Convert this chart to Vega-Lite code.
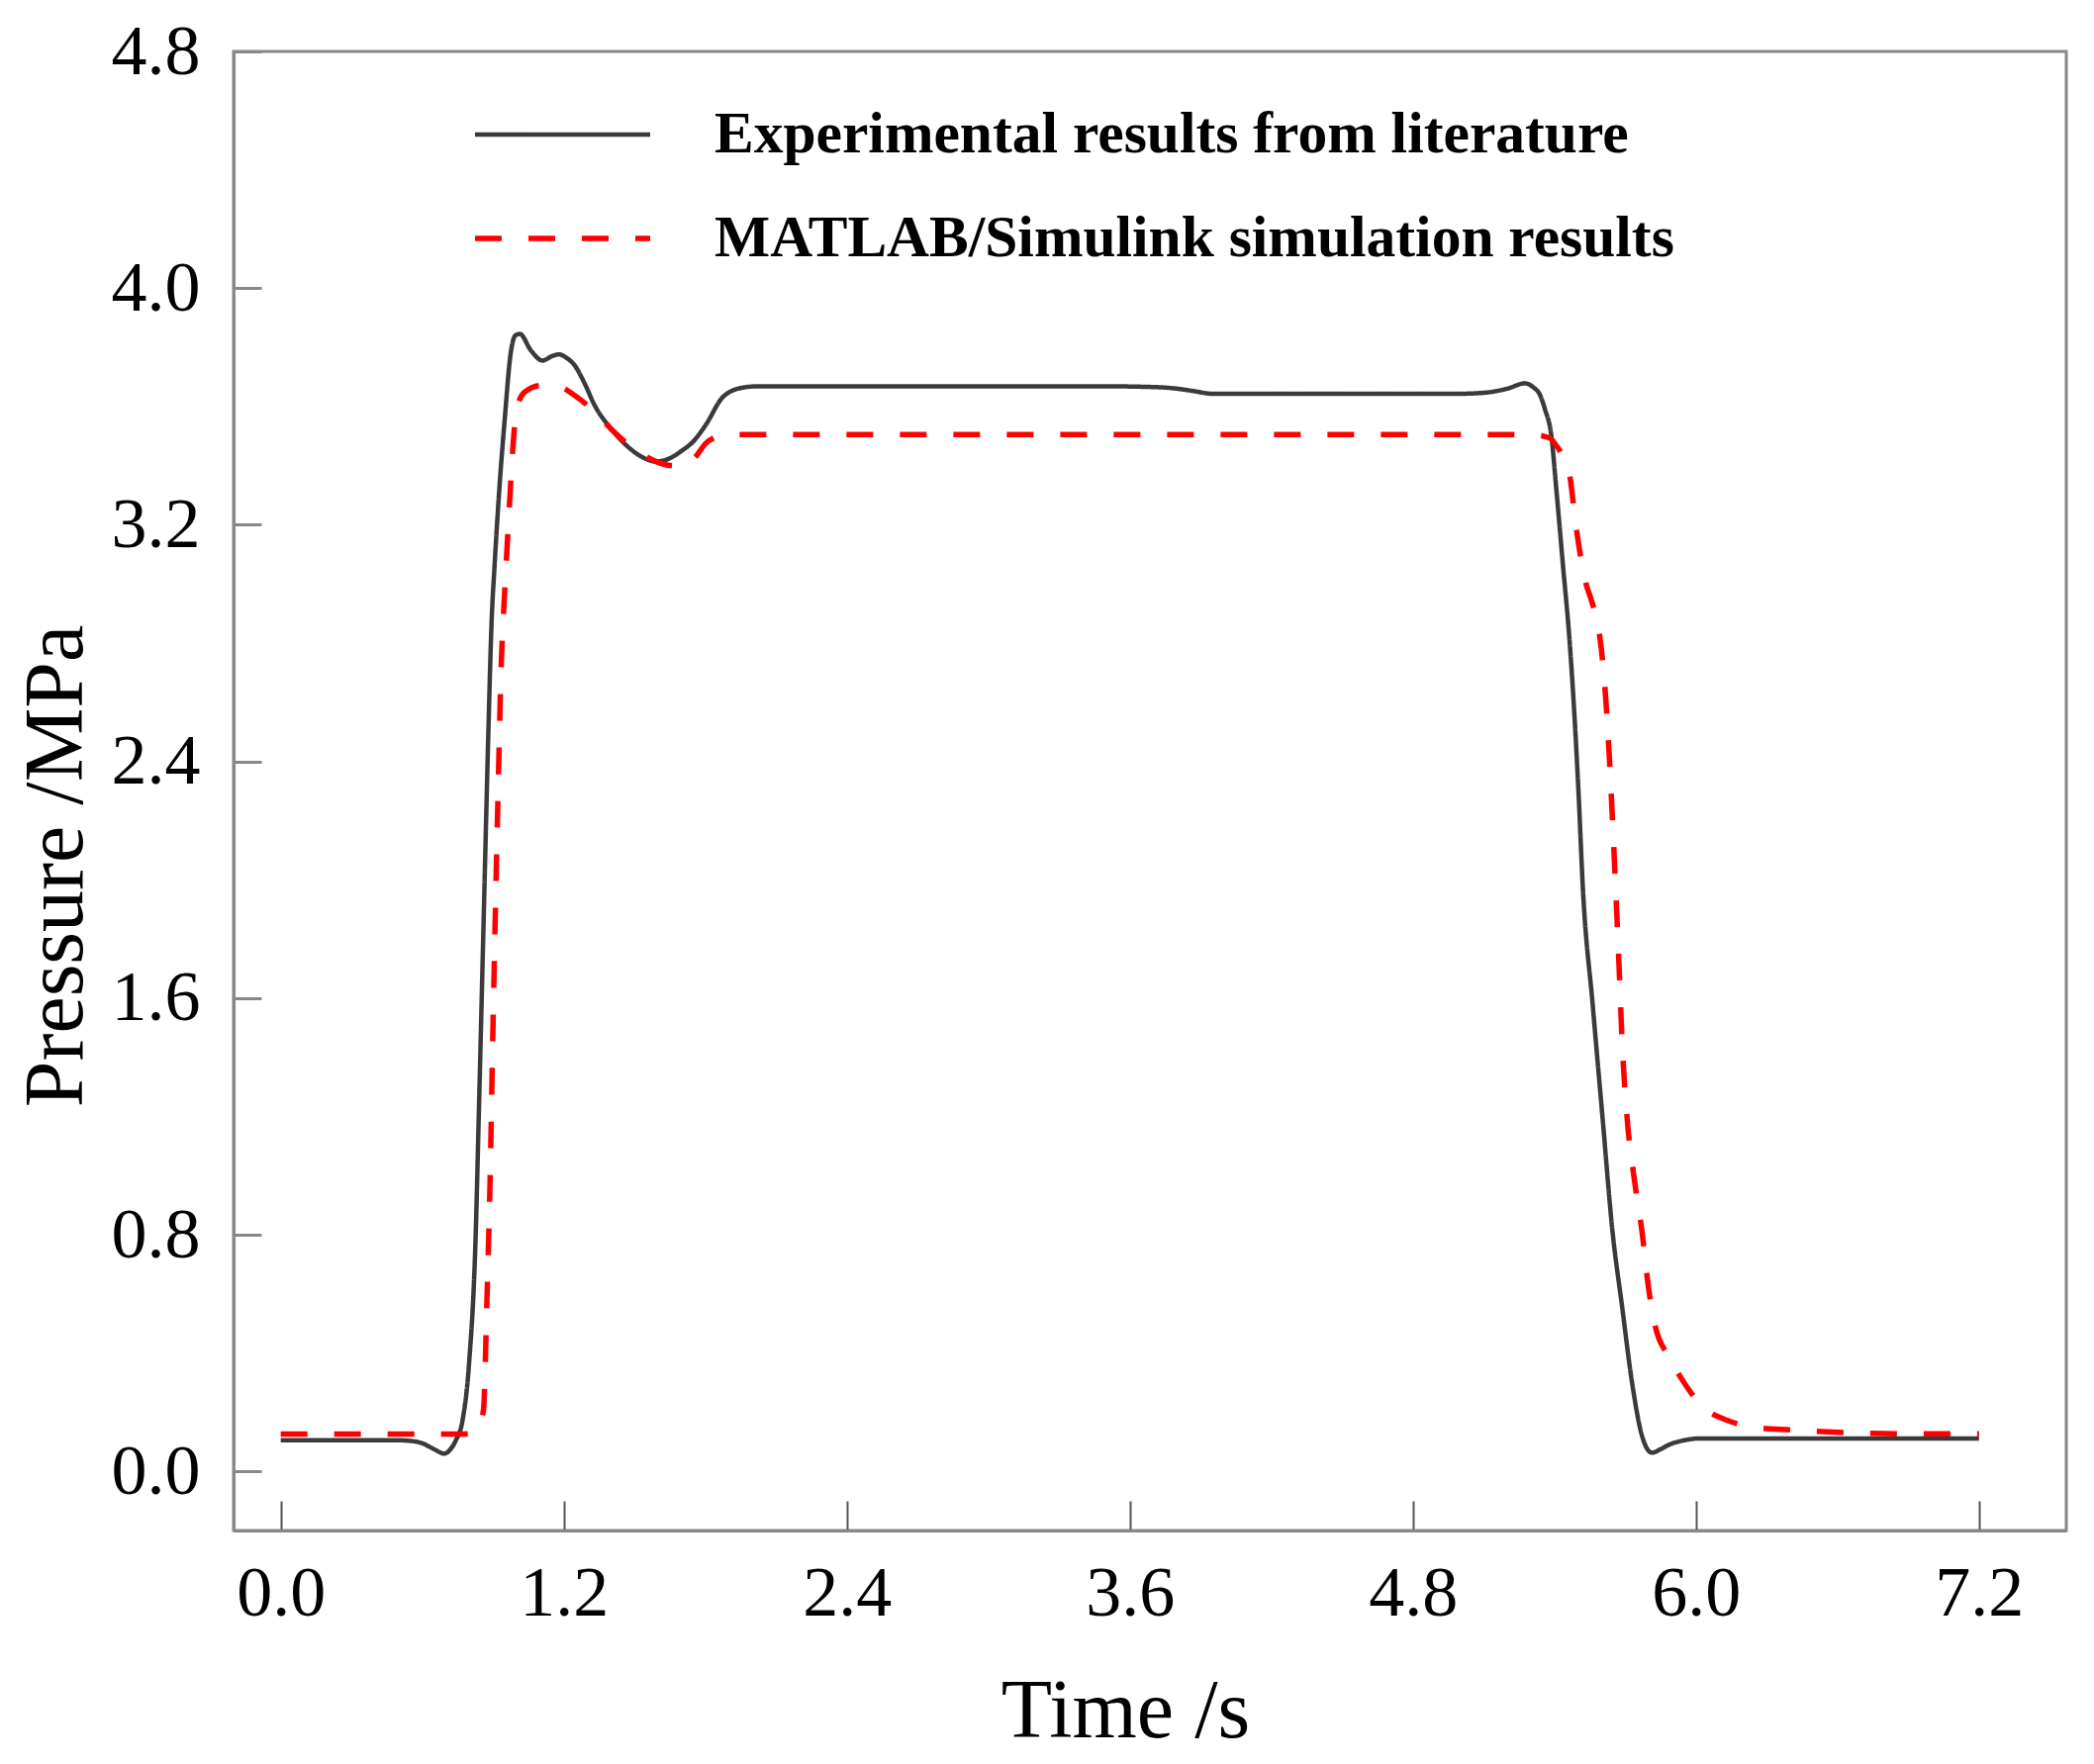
{
  "$schema": "https://vega.github.io/schema/vega-lite/v6.json",
  "autosize": {"type": "none"},
  "padding": {"left": 236, "top": 52, "right": 28, "bottom": 236},
  "width": 1852,
  "height": 1495,
  "background": "white",
  "config": {
    "view": {"stroke": "#888888", "strokeWidth": 3},
    "axis": {
      "grid": false,
      "labelFont": "Liberation Serif",
      "labelFontSize": 72,
      "labelColor": "black",
      "titleFont": "Liberation Serif",
      "titleFontSize": 84,
      "titleFontWeight": "normal",
      "titleColor": "black",
      "domainColor": "#888888",
      "domainWidth": 3,
      "labelOverlap": false
    },
    "legend": {
      "title": null,
      "orient": "none",
      "legendX": 241,
      "legendY": 54,
      "direction": "vertical",
      "padding": 0,
      "symbolType": "stroke",
      "symbolSize": 31329,
      "symbolStrokeWidth": 5,
      "clipHeight": 60,
      "rowPadding": 45,
      "labelOffset": 62,
      "labelFont": "Liberation Serif",
      "labelFontSize": 59.5,
      "labelFontWeight": "bold",
      "labelColor": "black",
      "labelLimit": 0
    }
  },
  "data": {
    "values": [
      {"series": "exp", "t": 0.0, "p": 0.105},
      {"series": "exp", "t": 0.3, "p": 0.105},
      {"series": "exp", "t": 0.5, "p": 0.105},
      {"series": "exp", "t": 0.55, "p": 0.103},
      {"series": "exp", "t": 0.6, "p": 0.095},
      {"series": "exp", "t": 0.65, "p": 0.075},
      {"series": "exp", "t": 0.693, "p": 0.06},
      {"series": "exp", "t": 0.72, "p": 0.075},
      {"series": "exp", "t": 0.742, "p": 0.104},
      {"series": "exp", "t": 0.77, "p": 0.169},
      {"series": "exp", "t": 0.798, "p": 0.36},
      {"series": "exp", "t": 0.826, "p": 0.786},
      {"series": "exp", "t": 0.84, "p": 1.213},
      {"series": "exp", "t": 0.86, "p": 1.853},
      {"series": "exp", "t": 0.88, "p": 2.49},
      {"series": "exp", "t": 0.893, "p": 2.85},
      {"series": "exp", "t": 0.908, "p": 3.08},
      {"series": "exp", "t": 0.925, "p": 3.3},
      {"series": "exp", "t": 0.95, "p": 3.56},
      {"series": "exp", "t": 0.975, "p": 3.78},
      {"series": "exp", "t": 0.995, "p": 3.84},
      {"series": "exp", "t": 1.014, "p": 3.845},
      {"series": "exp", "t": 1.06, "p": 3.79},
      {"series": "exp", "t": 1.11, "p": 3.755},
      {"series": "exp", "t": 1.15, "p": 3.77},
      {"series": "exp", "t": 1.18, "p": 3.776},
      {"series": "exp", "t": 1.21, "p": 3.765},
      {"series": "exp", "t": 1.245, "p": 3.74},
      {"series": "exp", "t": 1.29, "p": 3.675},
      {"series": "exp", "t": 1.33, "p": 3.605},
      {"series": "exp", "t": 1.4, "p": 3.525},
      {"series": "exp", "t": 1.47, "p": 3.465},
      {"series": "exp", "t": 1.53, "p": 3.43},
      {"series": "exp", "t": 1.59, "p": 3.414},
      {"series": "exp", "t": 1.65, "p": 3.425},
      {"series": "exp", "t": 1.7, "p": 3.45},
      {"series": "exp", "t": 1.747, "p": 3.48},
      {"series": "exp", "t": 1.8, "p": 3.535},
      {"series": "exp", "t": 1.875, "p": 3.632},
      {"series": "exp", "t": 1.955, "p": 3.663},
      {"series": "exp", "t": 2.02, "p": 3.668},
      {"series": "exp", "t": 2.5, "p": 3.668},
      {"series": "exp", "t": 3.0, "p": 3.668},
      {"series": "exp", "t": 3.5, "p": 3.668},
      {"series": "exp", "t": 3.718, "p": 3.665},
      {"series": "exp", "t": 3.8, "p": 3.66},
      {"series": "exp", "t": 3.87, "p": 3.652},
      {"series": "exp", "t": 3.948, "p": 3.643},
      {"series": "exp", "t": 4.5, "p": 3.643},
      {"series": "exp", "t": 5.0, "p": 3.643},
      {"series": "exp", "t": 5.1, "p": 3.646},
      {"series": "exp", "t": 5.2, "p": 3.66},
      {"series": "exp", "t": 5.275, "p": 3.678},
      {"series": "exp", "t": 5.31, "p": 3.665},
      {"series": "exp", "t": 5.338, "p": 3.64},
      {"series": "exp", "t": 5.36, "p": 3.59},
      {"series": "exp", "t": 5.387, "p": 3.5},
      {"series": "exp", "t": 5.408, "p": 3.32},
      {"series": "exp", "t": 5.436, "p": 3.064},
      {"series": "exp", "t": 5.464, "p": 2.809},
      {"series": "exp", "t": 5.485, "p": 2.553},
      {"series": "exp", "t": 5.503, "p": 2.28},
      {"series": "exp", "t": 5.52, "p": 1.98},
      {"series": "exp", "t": 5.562, "p": 1.579},
      {"series": "exp", "t": 5.604, "p": 1.195},
      {"series": "exp", "t": 5.646, "p": 0.812},
      {"series": "exp", "t": 5.687, "p": 0.556},
      {"series": "exp", "t": 5.729, "p": 0.3},
      {"series": "exp", "t": 5.771, "p": 0.121},
      {"series": "exp", "t": 5.813, "p": 0.063},
      {"series": "exp", "t": 5.85, "p": 0.075},
      {"series": "exp", "t": 5.883, "p": 0.089},
      {"series": "exp", "t": 5.95, "p": 0.105},
      {"series": "exp", "t": 6.009, "p": 0.111},
      {"series": "exp", "t": 6.6, "p": 0.111},
      {"series": "exp", "t": 7.2, "p": 0.111},
      {"series": "sim", "t": 0.0, "p": 0.126},
      {"series": "sim", "t": 0.5, "p": 0.126},
      {"series": "sim", "t": 0.776, "p": 0.126},
      {"series": "sim", "t": 0.82, "p": 0.13},
      {"series": "sim", "t": 0.845, "p": 0.16},
      {"series": "sim", "t": 0.86, "p": 0.211},
      {"series": "sim", "t": 0.874, "p": 0.573},
      {"series": "sim", "t": 0.888, "p": 1.0},
      {"series": "sim", "t": 0.898, "p": 1.426},
      {"series": "sim", "t": 0.909, "p": 1.853},
      {"series": "sim", "t": 0.921, "p": 2.279},
      {"series": "sim", "t": 0.934, "p": 2.705},
      {"series": "sim", "t": 0.95, "p": 2.98},
      {"series": "sim", "t": 0.965, "p": 3.2},
      {"series": "sim", "t": 0.978, "p": 3.38},
      {"series": "sim", "t": 0.99, "p": 3.52},
      {"series": "sim", "t": 1.005, "p": 3.605},
      {"series": "sim", "t": 1.035, "p": 3.649},
      {"series": "sim", "t": 1.105, "p": 3.671},
      {"series": "sim", "t": 1.175, "p": 3.668},
      {"series": "sim", "t": 1.245, "p": 3.638},
      {"series": "sim", "t": 1.33, "p": 3.582},
      {"series": "sim", "t": 1.398, "p": 3.526},
      {"series": "sim", "t": 1.46, "p": 3.48},
      {"series": "sim", "t": 1.523, "p": 3.443},
      {"series": "sim", "t": 1.59, "p": 3.414},
      {"series": "sim", "t": 1.65, "p": 3.4},
      {"series": "sim", "t": 1.706, "p": 3.398},
      {"series": "sim", "t": 1.761, "p": 3.432},
      {"series": "sim", "t": 1.803, "p": 3.476},
      {"series": "sim", "t": 1.84, "p": 3.495},
      {"series": "sim", "t": 1.875, "p": 3.505},
      {"series": "sim", "t": 2.5, "p": 3.505},
      {"series": "sim", "t": 3.5, "p": 3.505},
      {"series": "sim", "t": 4.5, "p": 3.505},
      {"series": "sim", "t": 5.3, "p": 3.505},
      {"series": "sim", "t": 5.38, "p": 3.493},
      {"series": "sim", "t": 5.4, "p": 3.476},
      {"series": "sim", "t": 5.43, "p": 3.44},
      {"series": "sim", "t": 5.464, "p": 3.37},
      {"series": "sim", "t": 5.492, "p": 3.192},
      {"series": "sim", "t": 5.534, "p": 3.0},
      {"series": "sim", "t": 5.555, "p": 2.949},
      {"series": "sim", "t": 5.59, "p": 2.834},
      {"series": "sim", "t": 5.611, "p": 2.681},
      {"series": "sim", "t": 5.632, "p": 2.425},
      {"series": "sim", "t": 5.648, "p": 2.17},
      {"series": "sim", "t": 5.66, "p": 1.963},
      {"series": "sim", "t": 5.674, "p": 1.707},
      {"series": "sim", "t": 5.687, "p": 1.451},
      {"series": "sim", "t": 5.708, "p": 1.195},
      {"series": "sim", "t": 5.736, "p": 1.003},
      {"series": "sim", "t": 5.771, "p": 0.812},
      {"series": "sim", "t": 5.799, "p": 0.62},
      {"series": "sim", "t": 5.827, "p": 0.492},
      {"series": "sim", "t": 5.883, "p": 0.39},
      {"series": "sim", "t": 5.939, "p": 0.313},
      {"series": "sim", "t": 6.023, "p": 0.223},
      {"series": "sim", "t": 6.134, "p": 0.172},
      {"series": "sim", "t": 6.246, "p": 0.149},
      {"series": "sim", "t": 6.4, "p": 0.14},
      {"series": "sim", "t": 6.637, "p": 0.131},
      {"series": "sim", "t": 6.92, "p": 0.127},
      {"series": "sim", "t": 7.2, "p": 0.127}
    ]
  },
  "mark": {"type": "line", "interpolate": "monotone"},
  "encoding": {
    "x": {
      "field": "t",
      "type": "quantitative",
      "scale": {"domain": [-0.2, 7.57], "nice": false, "zero": false},
      "axis": {
        "values": [0, 1.2, 2.4, 3.6, 4.8, 6.0, 7.2],
        "format": ".1f",
        "tickSize": -30,
        "tickWidth": 2,
        "tickColor": "#555555",
        "labelPadding": 58,
        "title": "Time  /s",
        "titleX": 901,
        "titleY": 208,
        "titleAlign": "center",
        "titleBaseline": "alphabetic"
      }
    },
    "y": {
      "field": "p",
      "type": "quantitative",
      "scale": {"domain": [-0.2, 4.8], "nice": false, "zero": false},
      "axis": {
        "values": [0, 0.8, 1.6, 2.4, 3.2, 4.0, 4.8],
        "format": ".1f",
        "tickSize": -28,
        "tickWidth": 3,
        "tickColor": "#888888",
        "labelPadding": 62,
        "title": "Pressure /MPa",
        "titleAngle": 270,
        "titleX": -154,
        "titleY": 823,
        "titleAlign": "center",
        "titleBaseline": "alphabetic"
      }
    },
    "color": {
      "field": "series",
      "type": "nominal",
      "scale": {"domain": ["exp", "sim"], "range": ["#3a3a3a", "#ff0000"]},
      "legend": {
        "labelExpr": "datum.value === 'exp' ? 'Experimental results from literature' : 'MATLAB/Simulink simulation results'"
      }
    },
    "strokeDash": {
      "field": "series",
      "type": "nominal",
      "scale": {"domain": ["exp", "sim"], "range": [[1, 0], [27, 27]]},
      "legend": {
        "labelExpr": "datum.value === 'exp' ? 'Experimental results from literature' : 'MATLAB/Simulink simulation results'"
      }
    },
    "strokeWidth": {
      "field": "series",
      "type": "nominal",
      "scale": {"domain": ["exp", "sim"], "range": [4.5, 5.5]},
      "legend": null
    }
  }
}
